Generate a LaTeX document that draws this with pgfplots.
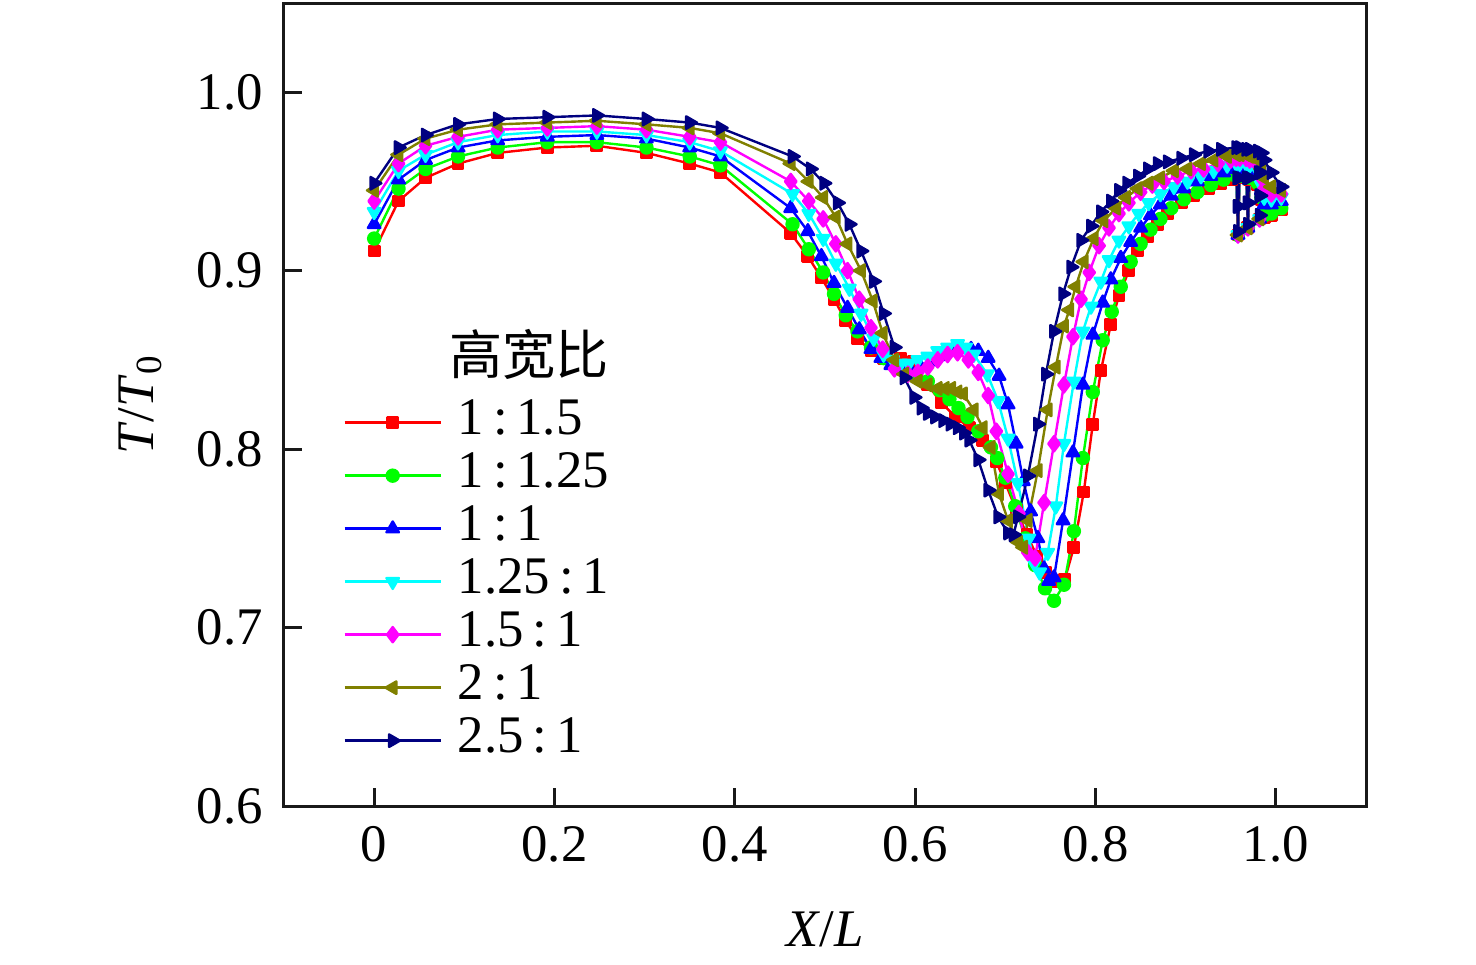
\documentclass[border=0pt]{standalone}
\usepackage{fontspec}
\setmainfont{Liberation Serif}
\newfontfamily\cjk{Noto Sans CJK SC}
\usepackage{pgfplots}
\pgfplotsset{compat=1.18}
\definecolor{navyc}{rgb}{0,0,0.5}
\definecolor{olivec}{rgb}{0.5,0.5,0}
\definecolor{greenc}{rgb}{0,1,0}
\definecolor{cyanc}{rgb}{0,1,1}
\definecolor{magentac}{rgb}{1,0,1}
\definecolor{redc}{rgb}{1,0,0}
\definecolor{bluec}{rgb}{0,0,1}
\begin{document}
\begin{tikzpicture}[font=\fontsize{13.2}{16}\selectfont]
\begin{axis}[
  scale only axis, width=270.5pt, height=200.75pt,
  xmin=-0.1, xmax=1.1, ymin=0.6, ymax=1.05,
  xtick={0,0.2,0.4,0.6,0.8,1.0}, xticklabels={0,0.2,0.4,0.6,0.8,1.0},
  ytick={0.6,0.7,0.8,0.9,1.0}, yticklabels={0.6,0.7,0.8,0.9,1.0},
  tick align=inside, xtick pos=bottom, ytick pos=left,
  major tick length=4.5pt,
  axis line style={line width=0.75pt, black!90},
  tick style={line width=0.75pt, black!90},
  xticklabel style={yshift=-1.5pt},
  yticklabel style={xshift=-1.75pt},
  xlabel={\textit{X}/\textit{L}},
  ylabel={\textit{T}/\textit{T}\textsubscript{0}},
  xlabel style={at={(axis description cs:0.5,-0.154)}, anchor=center},
  ylabel style={at={(axis description cs:-0.133,0.5)}, anchor=center, rotate=0},
  every axis plot/.append style={line width=0.6pt, line join=round},
  legend cell align=left,
  legend style={at={(axis cs:-0.034,0.829)}, anchor=north west, draw=none, fill=none,
    inner sep=0pt, outer sep=0pt, row sep=0pt, column sep=4pt,
    nodes={inner sep=0pt, text height=9.25pt, text depth=4pt},
    font=\fontsize{13.2}{16}\selectfont},
  legend image code/.code={\draw[mark repeat=2,mark phase=2] plot coordinates {(0pt,0.3pt)(12pt,0.3pt)(24pt,0.3pt)};},
]
\addplot[color=redc, mark=square*, mark size=1.3pt, mark options={solid, fill=redc}] coordinates {
(0,0.911)(0.027,0.939)(0.057,0.952)(0.093,0.960)(0.137,0.966)(0.192,0.969)(0.247,0.970)(0.302,0.966)(0.350,0.960)(0.384,0.955)
(0.462,0.921)(0.481,0.908)(0.496,0.896)(0.510,0.884)(0.523,0.872)(0.536,0.862)(0.551,0.855)(0.565,0.851)(0.584,0.851)(0.598,0.849)(0.614,0.836)(0.629,0.826)(0.645,0.818)(0.660,0.812)(0.675,0.805)(0.690,0.793)(0.700,0.781)(0.712,0.766)(0.724,0.752)(0.735,0.740)(0.745,0.731)(0.755,0.726)(0.766,0.727)(0.776,0.745)(0.787,0.776)(0.797,0.814)(0.806,0.844)(0.817,0.870)(0.826,0.886)(0.837,0.900)(0.847,0.911)(0.858,0.919)(0.869,0.926)(0.880,0.932)(0.895,0.938)(0.909,0.942)(0.925,0.946)(0.939,0.949)(0.951,0.951)(0.956,0.952)(0.958,0.920)(0.960,0.952)(0.967,0.952)(0.969,0.924)(0.971,0.951)(0.980,0.948)(0.982,0.929)(0.984,0.940)(0.987,0.930)(0.995,0.931)(1.006,0.934)};
\addlegendentry{1\,:\,1.5}
\addplot[color=greenc, mark=*, mark size=1.5pt, mark options={solid, fill=greenc}] coordinates {
(0,0.918)(0.027,0.946)(0.057,0.957)(0.093,0.964)(0.137,0.969)(0.192,0.972)(0.247,0.972)(0.302,0.969)(0.350,0.964)(0.384,0.959)
(0.464,0.926)(0.482,0.912)(0.498,0.899)(0.510,0.887)(0.523,0.875)(0.536,0.866)(0.551,0.857)(0.565,0.851)(0.580,0.846)(0.596,0.842)(0.614,0.838)(0.627,0.833)(0.638,0.828)(0.648,0.823)(0.658,0.818)(0.670,0.810)(0.684,0.801)(0.691,0.795)(0.700,0.784)(0.711,0.768)(0.722,0.750)(0.733,0.735)(0.744,0.722)(0.754,0.715)(0.765,0.724)(0.776,0.754)(0.786,0.795)(0.797,0.832)(0.808,0.861)(0.818,0.877)(0.828,0.891)(0.839,0.905)(0.850,0.915)(0.861,0.923)(0.872,0.929)(0.884,0.935)(0.898,0.940)(0.913,0.944)(0.928,0.948)(0.942,0.951)(0.956,0.953)(0.958,0.920)(0.960,0.953)(0.967,0.953)(0.969,0.924)(0.971,0.952)(0.980,0.949)(0.982,0.929)(0.984,0.941)(0.987,0.931)(0.995,0.932)(1.006,0.935)};
\addlegendentry{1\,:\,1.25}
\addplot[color=bluec, mark=triangle*, mark size=1.8pt, mark options={solid, fill=bluec}] coordinates {
(0,0.926)(0.027,0.951)(0.057,0.962)(0.093,0.969)(0.137,0.973)(0.192,0.975)(0.247,0.976)(0.302,0.974)(0.350,0.969)(0.384,0.964)
(0.462,0.935)(0.481,0.922)(0.496,0.908)(0.510,0.893)(0.525,0.879)(0.538,0.867)(0.551,0.856)(0.562,0.851)(0.573,0.847)(0.584,0.845)(0.595,0.844)(0.606,0.846)(0.617,0.849)(0.628,0.852)(0.640,0.855)(0.652,0.856)(0.662,0.856)(0.670,0.855)(0.681,0.851)(0.693,0.841)(0.703,0.825)(0.712,0.803)(0.720,0.782)(0.728,0.765)(0.736,0.750)(0.743,0.733)(0.748,0.726)(0.754,0.728)(0.764,0.760)(0.775,0.798)(0.786,0.836)(0.797,0.864)(0.808,0.882)(0.817,0.895)(0.828,0.907)(0.839,0.916)(0.850,0.924)(0.861,0.931)(0.872,0.937)(0.884,0.942)(0.898,0.946)(0.913,0.950)(0.928,0.953)(0.942,0.955)(0.956,0.957)(0.958,0.920)(0.960,0.957)(0.967,0.957)(0.969,0.924)(0.971,0.956)(0.980,0.953)(0.982,0.929)(0.984,0.945)(0.987,0.937)(0.995,0.937)(1.006,0.939)};
\addlegendentry{1\,:\,1}
\addplot[color=cyanc, mark=triangle*, mark size=1.8pt, mark options={solid, fill=cyanc, rotate=180}] coordinates {
(0,0.933)(0.027,0.956)(0.057,0.965)(0.093,0.972)(0.137,0.976)(0.192,0.978)(0.247,0.978)(0.302,0.976)(0.350,0.972)(0.384,0.967)
(0.464,0.943)(0.482,0.932)(0.498,0.918)(0.512,0.904)(0.527,0.890)(0.540,0.876)(0.554,0.862)(0.565,0.853)(0.575,0.850)(0.584,0.848)(0.593,0.848)(0.603,0.850)(0.614,0.852)(0.625,0.855)(0.636,0.857)(0.647,0.859)(0.656,0.857)(0.665,0.853)(0.680,0.842)(0.692,0.827)(0.703,0.806)(0.714,0.781)(0.726,0.750)(0.732,0.736)(0.738,0.731)(0.747,0.742)(0.756,0.768)(0.765,0.803)(0.776,0.838)(0.786,0.866)(0.795,0.880)(0.806,0.894)(0.815,0.906)(0.826,0.917)(0.837,0.925)(0.848,0.932)(0.859,0.938)(0.872,0.943)(0.887,0.947)(0.902,0.950)(0.917,0.953)(0.931,0.956)(0.946,0.959)(0.956,0.960)(0.958,0.920)(0.960,0.960)(0.967,0.960)(0.969,0.924)(0.971,0.959)(0.980,0.956)(0.982,0.929)(0.984,0.948)(0.987,0.941)(0.995,0.940)(1.006,0.941)};
\addlegendentry{1.25\,:\,1}
\addplot[color=magentac, mark=diamond*, mark size=1.9pt, mark options={solid, fill=magentac}] coordinates {
(0,0.939)(0.027,0.960)(0.057,0.970)(0.093,0.975)(0.137,0.979)(0.192,0.980)(0.247,0.981)(0.302,0.979)(0.350,0.975)(0.384,0.972)
(0.462,0.950)(0.482,0.939)(0.498,0.929)(0.512,0.915)(0.525,0.900)(0.538,0.884)(0.551,0.868)(0.564,0.856)(0.577,0.845)(0.592,0.842)(0.603,0.843)(0.614,0.846)(0.625,0.850)(0.636,0.853)(0.647,0.854)(0.659,0.850)(0.670,0.843)(0.681,0.830)(0.690,0.810)(0.703,0.786)(0.715,0.764)(0.725,0.742)(0.733,0.739)(0.743,0.770)(0.754,0.803)(0.765,0.836)(0.775,0.863)(0.784,0.884)(0.793,0.899)(0.804,0.914)(0.815,0.924)(0.826,0.932)(0.837,0.938)(0.850,0.944)(0.863,0.948)(0.876,0.950)(0.891,0.953)(0.906,0.956)(0.920,0.957)(0.936,0.960)(0.950,0.962)(0.956,0.963)(0.958,0.920)(0.960,0.963)(0.967,0.963)(0.969,0.924)(0.971,0.962)(0.980,0.959)(0.982,0.929)(0.984,0.952)(0.987,0.946)(0.995,0.943)(1.006,0.943)};
\addlegendentry{1.5\,:\,1}
\addplot[color=olivec, mark=triangle*, mark size=1.8pt, mark options={solid, fill=olivec, rotate=90}] coordinates {
(0,0.945)(0.027,0.965)(0.057,0.974)(0.093,0.979)(0.137,0.982)(0.192,0.983)(0.247,0.984)(0.302,0.982)(0.350,0.980)(0.384,0.977)
(0.462,0.960)(0.482,0.950)(0.498,0.941)(0.512,0.930)(0.525,0.915)(0.540,0.900)(0.553,0.883)(0.564,0.865)(0.577,0.850)(0.588,0.842)(0.603,0.838)(0.614,0.836)(0.625,0.834)(0.633,0.834)(0.640,0.834)(0.647,0.832)(0.653,0.831)(0.665,0.822)(0.675,0.812)(0.684,0.801)(0.693,0.775)(0.703,0.760)(0.714,0.748)(0.720,0.745)(0.725,0.760)(0.736,0.788)(0.747,0.822)(0.756,0.846)(0.765,0.869)(0.771,0.878)(0.778,0.891)(0.787,0.905)(0.798,0.918)(0.809,0.928)(0.823,0.935)(0.834,0.941)(0.847,0.946)(0.859,0.949)(0.872,0.952)(0.887,0.956)(0.902,0.957)(0.917,0.960)(0.931,0.962)(0.946,0.964)(0.956,0.965)(0.958,0.920)(0.960,0.965)(0.967,0.965)(0.969,0.924)(0.971,0.964)(0.980,0.962)(0.982,0.929)(0.984,0.957)(0.987,0.952)(0.995,0.947)(1.006,0.945)};
\addlegendentry{2\,:\,1}
\addplot[color=navyc, mark=triangle*, mark size=1.8pt, mark options={solid, fill=navyc, rotate=-90}] coordinates {
(0,0.949)(0.027,0.969)(0.057,0.976)(0.093,0.982)(0.137,0.985)(0.192,0.986)(0.247,0.987)(0.302,0.985)(0.350,0.983)(0.384,0.980)
(0.464,0.964)(0.484,0.957)(0.499,0.949)(0.514,0.938)(0.527,0.926)(0.540,0.911)(0.554,0.894)(0.565,0.876)(0.577,0.857)(0.588,0.840)(0.599,0.829)(0.607,0.823)(0.614,0.820)(0.622,0.818)(0.631,0.816)(0.639,0.814)(0.647,0.812)(0.654,0.809)(0.660,0.805)(0.670,0.794)(0.681,0.777)(0.692,0.762)(0.703,0.753)(0.709,0.752)(0.714,0.762)(0.725,0.785)(0.736,0.814)(0.745,0.842)(0.754,0.866)(0.764,0.887)(0.773,0.902)(0.784,0.917)(0.795,0.925)(0.806,0.933)(0.817,0.939)(0.826,0.945)(0.835,0.949)(0.847,0.953)(0.858,0.957)(0.869,0.960)(0.880,0.961)(0.895,0.963)(0.909,0.965)(0.925,0.967)(0.939,0.968)(0.956,0.969)(0.957,0.952)(0.9575,0.936)(0.958,0.922)(0.9585,0.936)(0.959,0.952)(0.960,0.969)(0.967,0.968)(0.968,0.952)(0.9685,0.938)(0.969,0.926)(0.9695,0.938)(0.970,0.952)(0.971,0.968)(0.980,0.967)(0.981,0.955)(0.9815,0.942)(0.982,0.931)(0.9825,0.942)(0.983,0.955)(0.984,0.966)(0.987,0.962)(0.995,0.955)(1.006,0.947)};
\addlegendentry{2.5\,:\,1}
\node[font=\cjk\fontsize{13.3}{16}\selectfont] at (axis cs:0.172,0.853) {高宽比};
\end{axis}
\path[use as bounding box] ([shift={(-71pt,-39.5pt)}]current axis.south west) rectangle ([shift={(27.5pt,0.75pt)}]current axis.north east);
\end{tikzpicture}
\end{document}
